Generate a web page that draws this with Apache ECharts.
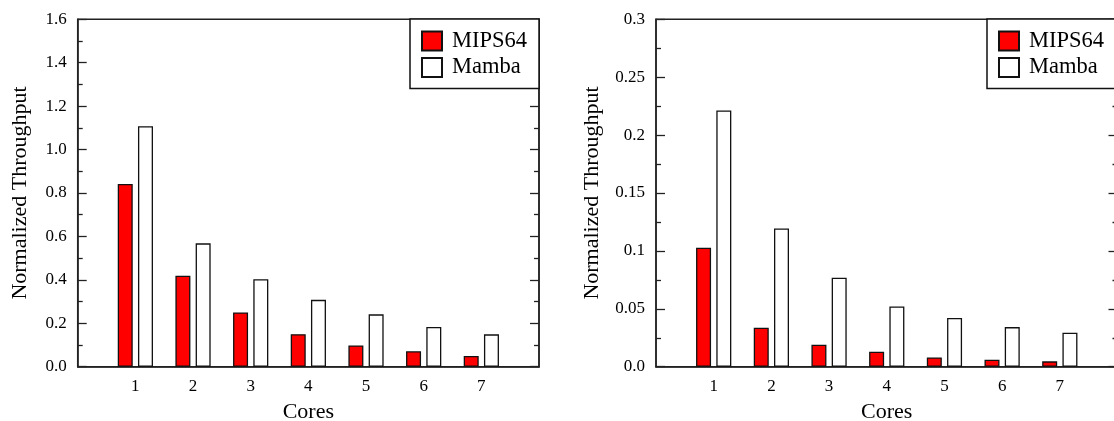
<!DOCTYPE html>
<html>
<head>
<meta charset="utf-8">
<script src="https://cdn.jsdelivr.net/npm/echarts@6/dist/echarts.min.js"></script>
<style>
  html, body { margin: 0; padding: 0; background: #fff; }
  #chart { width: 1114px; height: 421px; }
</style>
</head>
<body>
<div id="chart"></div>
<script>
const cores = [1, 2, 3, 4, 5, 6, 7];
const mipsLeft = [0.842, 0.419, 0.250, 0.150, 0.098, 0.071, 0.049];
const mambaLeft = [1.108, 0.568, 0.403, 0.308, 0.241, 0.183, 0.149];
const mipsRight = [0.1027, 0.0337, 0.019, 0.0129, 0.008, 0.006, 0.0046];
const mambaRight = [0.2212, 0.1194, 0.0768, 0.052, 0.042, 0.0342, 0.0293];
const seriesNames = ["MIPS64", "Mamba"];

const FONT = "Liberation Serif";
const ink = "#222";

let chart = echarts.init(document.getElementById("chart"), null, { renderer: "canvas" });

function xAxisOf(gridIndex) {
  return {
    type: "value",
    gridIndex: gridIndex,
    min: 0,
    max: 8,
    interval: 1,
    name: "Cores",
    nameLocation: "middle",
    nameGap: 35,
    nameTextStyle: { fontFamily: FONT, fontSize: 22, color: "#000" },
    axisLine: { show: true, lineStyle: { color: ink, width: 1.5 } },
    axisTick: { show: false },
    splitLine: { show: false },
    axisLabel: {
      fontFamily: FONT,
      fontSize: 17,
      color: "#000",
      margin: 11,
      formatter: (v) => (v >= 1 && v <= 7 ? String(v) : ""),
    },
  };
}

function yAxesOf(gridIndex, max, interval, fmt, nameGap) {
  const base = {
    type: "value",
    gridIndex: gridIndex,
    min: 0,
    max: max,
    interval: interval,
    axisLine: { show: true, lineStyle: { color: ink, width: 1.5 } },
    axisTick: { show: true, inside: true, length: 9, lineStyle: { color: ink, width: 1.3 } },
    minorTick: { show: true, splitNumber: 2, length: 5, lineStyle: { color: ink, width: 1.3 } },
    splitLine: { show: false },
    minorSplitLine: { show: false },
  };
  return [
    Object.assign({}, base, {
      position: "left",
      name: "Normalized Throughput",
      nameLocation: "middle",
      nameGap: nameGap,
      nameTextStyle: { fontFamily: FONT, fontSize: 22, color: "#000" },
      axisLabel: { fontFamily: FONT, fontSize: 17, color: "#000", margin: 11, formatter: fmt },
    }),
    Object.assign({}, base, {
      position: "right",
      axisLabel: { show: false },
    }),
  ];
}

function barSeries(name, values, color, xi, yi) {
  return {
    name: name,
    type: "bar",
    xAxisIndex: xi,
    yAxisIndex: yi,
    barWidth: 15,
    barGap: "35%",
    itemStyle: { color: color, borderColor: "#111", borderWidth: 1.3 },
    data: cores.map((c, i) => [c, values[i]]),
  };
}

function legendAt(left) {
  return {
    left: left,
    top: 19,
    orient: "vertical",
    icon: "rect",
    itemWidth: 20,
    itemHeight: 19,
    itemGap: 3.5,
    padding: [10.5, 12, 9.5, 11],
    borderColor: "#111",
    borderWidth: 1.5,
    backgroundColor: "#fff",
    textStyle: { fontFamily: FONT, fontSize: 22.5, color: "#000", padding: [0, 0, 0, 5] },
    data: seriesNames,
  };
}

// grids keep their size; the right panel runs off the canvas edge as in the original
const gridBase = { top: 19.3, height: 347.4, show: true, borderColor: ink, borderWidth: 1.5, outerBoundsMode: "none", containLabel: false };

let option = {
  animation: false,
  backgroundColor: "#fff",
  grid: [
    Object.assign({ left: 77.7, width: 461.3 }, gridBase),
    Object.assign({ left: 656, width: 461.5 }, gridBase),
  ],
  legend: [legendAt(410), legendAt(987)],
  xAxis: [xAxisOf(0), xAxisOf(1)],
  yAxis: [
    ...yAxesOf(0, 1.6, 0.2, (v) => v.toFixed(1), 46),
    ...yAxesOf(1, 0.3, 0.05, (v) => (v === 0 ? "0.0" : String(+v.toFixed(3))), 53),
  ],
  series: [
    barSeries(seriesNames[0], mipsLeft, "#ff0000", 0, 0),
    barSeries(seriesNames[1], mambaLeft, "#ffffff", 0, 0),
    barSeries(seriesNames[0], mipsRight, "#ff0000", 1, 2),
    barSeries(seriesNames[1], mambaRight, "#ffffff", 1, 2),
  ],
};
chart.setOption(option);
</script>
</body>
</html>
